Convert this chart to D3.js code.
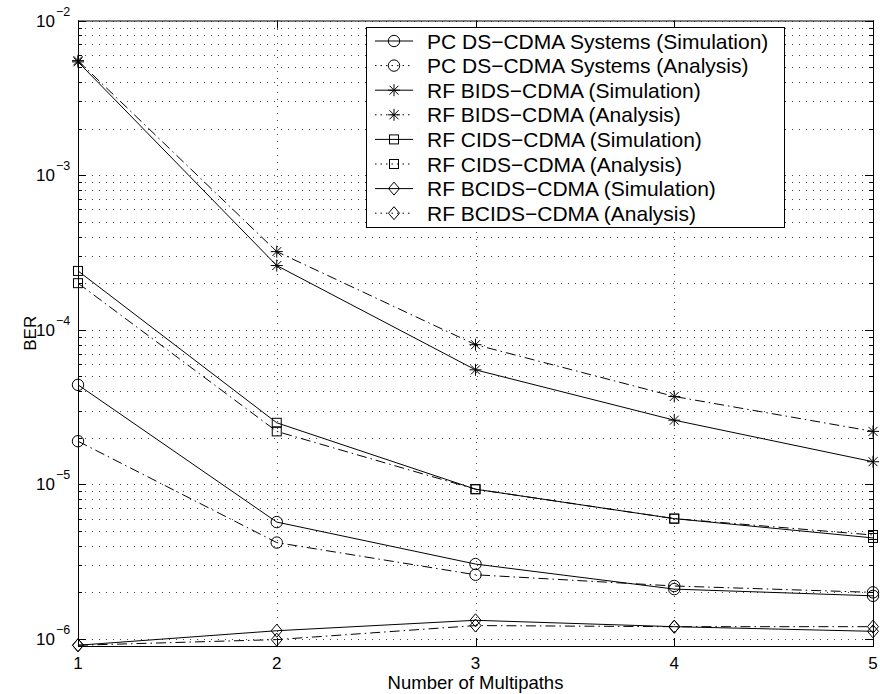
<!DOCTYPE html>
<html>
<head>
<meta charset="utf-8">
<script src="https://cdn.jsdelivr.net/npm/d3@7"></script>
<style>
  body { margin: 0; background: #fff; }
  svg text { font-family: "Liberation Sans", Arial, Helvetica, sans-serif; fill: #000; }
</style>
</head>
<body>
<svg id="chart" width="880" height="694"></svg>
<script>
// number of multipaths on x
const multipaths = [1, 2, 3, 4, 5];

// BER values
const pcSim    = [4.4e-5, 5.7e-6, 3.05e-6, 2.1e-6, 1.9e-6];
const pcAna    = [1.9e-5, 4.2e-6, 2.6e-6, 2.2e-6, 2.0e-6];
const bidsSim  = [5.4e-3, 2.6e-4, 5.5e-5, 2.6e-5, 1.4e-5];
const bidsAna  = [5.5e-3, 3.2e-4, 8.0e-5, 3.7e-5, 2.2e-5];
const cidsSim  = [2.4e-4, 2.5e-5, 9.3e-6, 6.0e-6, 4.5e-6];
const cidsAna  = [2.0e-4, 2.2e-5, 9.3e-6, 6.0e-6, 4.7e-6];
const bcidsSim = [9.1e-7, 1.13e-6, 1.32e-6, 1.2e-6, 1.12e-6];
const bcidsAna = [9.1e-7, 0.99e-6, 1.22e-6, 1.2e-6, 1.2e-6];

const seriesNames = [
  "PC DS\u2212CDMA Systems (Simulation)",
  "PC DS\u2212CDMA Systems (Analysis)",
  "RF BIDS\u2212CDMA (Simulation)",
  "RF BIDS\u2212CDMA (Analysis)",
  "RF CIDS\u2212CDMA (Simulation)",
  "RF CIDS\u2212CDMA (Analysis)",
  "RF BCIDS\u2212CDMA (Simulation)",
  "RF BCIDS\u2212CDMA (Analysis)"
];
const yExponents = [-2, -3, -4, -5, -6];

const series = [
  { name: seriesNames[0], values: pcSim,    marker: "circle",  dash: null },
  { name: seriesNames[1], values: pcAna,    marker: "circle",  dash: "10,4,1.5,4" },
  { name: seriesNames[2], values: bidsSim,  marker: "star",    dash: null },
  { name: seriesNames[3], values: bidsAna,  marker: "star",    dash: "10,4,1.5,4" },
  { name: seriesNames[4], values: cidsSim,  marker: "square",  dash: null },
  { name: seriesNames[5], values: cidsAna,  marker: "square",  dash: "10,4,1.5,4" },
  { name: seriesNames[6], values: bcidsSim, marker: "diamond", dash: null },
  { name: seriesNames[7], values: bcidsAna, marker: "diamond", dash: "10,4,1.5,4" }
];

const margin = { left: 78, right: 7, top: 20.5, bottom: 48 };
const W = 880, H = 694;
const svg = d3.select("#chart");

const x = d3.scaleLinear().domain([1, 5]).range([margin.left, W - margin.right]);
const y = d3.scaleLog().domain([9e-7, 1e-2]).range([H - margin.bottom, margin.top]);

const x0 = x.range()[0], x1 = x.range()[1];
const yb = y.range()[0], yt = y.range()[1];

// minor + major y ticks (log)
let yMinor = [];
for (let e = -7; e <= -3; e++) {
  for (let m = 1; m <= 9; m++) {
    const v = m * Math.pow(10, e);
    if (v >= y.domain()[0] && v <= y.domain()[1]) yMinor.push(v);
  }
}
yMinor.push(1e-2);

const grid = svg.append("g").attr("class", "grid")
  .attr("stroke", "#444").attr("stroke-width", 1).attr("stroke-dasharray", "1,6");

grid.selectAll("line.gy").data(yMinor).enter().append("line")
  .attr("x1", x0).attr("x2", x1)
  .attr("y1", d => Math.round(y(d)) + 0.5).attr("y2", d => Math.round(y(d)) + 0.5);

grid.selectAll("line.gx").data(multipaths.slice(1, -1)).enter().append("line")
  .attr("y1", yb).attr("y2", yt)
  .attr("x1", d => Math.round(x(d)) + 0.5).attr("x2", d => Math.round(x(d)) + 0.5);

// frame
svg.append("rect")
  .attr("x", x0 + 0.5).attr("y", yt + 0.5)
  .attr("width", x1 - x0).attr("height", yb - yt)
  .attr("fill", "none").attr("stroke", "#000").attr("stroke-width", 1);

// ticks, pointing inward on all four sides
const ticks = svg.append("g").attr("stroke", "#000").attr("stroke-width", 1);
const isMajor = d => Math.abs(Math.log10(d) - Math.round(Math.log10(d))) < 1e-9;
yMinor.forEach(d => {
  const len = isMajor(d) ? 8 : 4;
  const yy = Math.round(y(d)) + 0.5;
  ticks.append("line").attr("x1", x0).attr("x2", x0 + len).attr("y1", yy).attr("y2", yy);
  ticks.append("line").attr("x1", x1).attr("x2", x1 - len).attr("y1", yy).attr("y2", yy);
});
multipaths.forEach(d => {
  const xx = Math.round(x(d)) + 0.5;
  ticks.append("line").attr("x1", xx).attr("x2", xx).attr("y1", yb).attr("y2", yb - 8);
  ticks.append("line").attr("x1", xx).attr("x2", xx).attr("y1", yt).attr("y2", yt + 8);
});

// tick labels
svg.append("g").selectAll("text").data(multipaths).enter().append("text")
  .attr("x", d => x(d)).attr("y", yb + 23)
  .attr("text-anchor", "middle").attr("font-size", 17)
  .text(d => d);

const yl = svg.append("g").selectAll("g").data(yExponents).enter().append("g")
  .attr("transform", d => `translate(0,${y(Math.pow(10, d))})`);
yl.append("text").attr("x", 55).attr("y", 6)
  .attr("text-anchor", "end").attr("font-size", 17).text("10");
yl.append("text").attr("x", 56).attr("y", -5)
  .attr("font-size", 12.5).text(d => "\u2212" + Math.abs(d));

// axis titles
svg.append("text")
  .attr("x", (x0 + x1) / 2).attr("y", H - 5)
  .attr("text-anchor", "middle").attr("font-size", 18.5)
  .text("Number of Multipaths");
svg.append("text")
  .attr("transform", `translate(36,${(yt + yb) / 2}) rotate(-90)`)
  .attr("text-anchor", "middle").attr("font-size", 17)
  .text("BER");

// marker drawing
function drawMarker(g, type, cx, cy) {
  const m = g.append("g").attr("fill", "none").attr("stroke", "#000").attr("stroke-width", 1);
  if (type === "circle") {
    m.append("circle").attr("cx", cx).attr("cy", cy).attr("r", 5.7);
  } else if (type === "square") {
    m.append("rect").attr("x", cx - 4.5).attr("y", cy - 4.5).attr("width", 9).attr("height", 9);
  } else if (type === "diamond") {
    m.append("path").attr("d", `M${cx},${cy - 6.5}L${cx + 5.5},${cy}L${cx},${cy + 6.5}L${cx - 5.5},${cy}Z`);
  } else if (type === "star") {
    const r = 6, d = 4.5;
    m.append("path").attr("d",
      `M${cx - r},${cy}H${cx + r}M${cx},${cy - r}V${cy + r}` +
      `M${cx - d},${cy - d}L${cx + d},${cy + d}M${cx - d},${cy + d}L${cx + d},${cy - d}`);
  }
}

const line = d3.line().x(d => x(d.x)).y(d => y(d.y));

const plot = svg.append("g");
series.forEach(s => {
  const pts = multipaths.map((m, i) => ({ x: m, y: s.values[i] }));
  plot.append("path").datum(pts)
    .attr("d", line)
    .attr("fill", "none").attr("stroke", "#000").attr("stroke-width", 1)
    .attr("stroke-dasharray", s.dash);
  pts.forEach(p => drawMarker(plot, s.marker, x(p.x), y(p.y)));
});

// legend
const lg = { x: 366.5, y: 27.5, w: 418, h: 200, row0: 41, step: 24.6 };
const legend = svg.append("g");
legend.append("rect")
  .attr("x", lg.x).attr("y", lg.y).attr("width", lg.w).attr("height", lg.h)
  .attr("fill", "#fff").attr("stroke", "#000").attr("stroke-width", 1);
series.forEach((s, i) => {
  const cy = lg.row0 + i * lg.step;
  legend.append("line")
    .attr("x1", 375).attr("x2", 413).attr("y1", cy).attr("y2", cy)
    .attr("stroke", "#000").attr("stroke-width", 1)
    .attr("stroke-dasharray", s.dash ? "1.5,4" : null);
  drawMarker(legend, s.marker, 394, cy);
  legend.append("text")
    .attr("x", 427).attr("y", cy + 7.5)
    .attr("font-size", 21)
    .text(s.name);
});
</script>
</body>
</html>
